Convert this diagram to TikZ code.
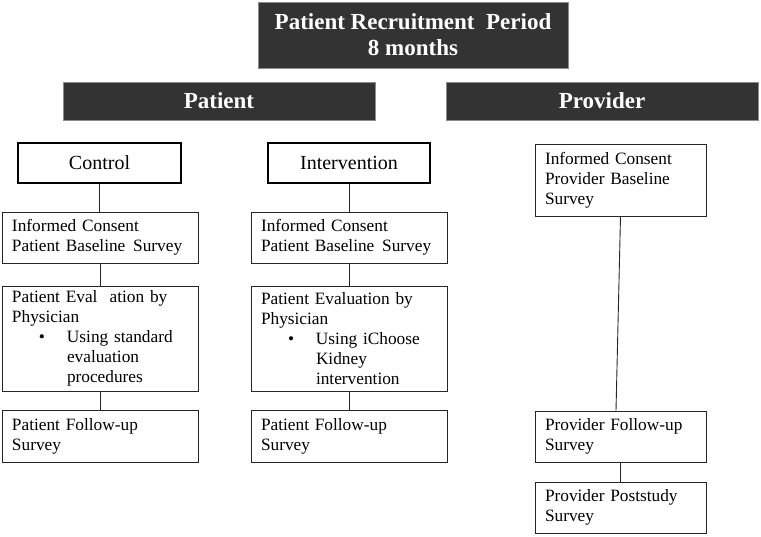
\documentclass[tikz,border=0pt]{standalone}
\usepackage{fontspec}
\setmainfont{Liberation Serif}
\begin{document}
\begin{tikzpicture}[x=1pt,y=-1pt,
  hdr/.style={draw=black!45, fill=black!80, text=white, font=\fontsize{23}{26}\selectfont\bfseries, align=center, line width=0.8pt, inner sep=0pt},
  grp/.style={draw=black, line width=2.6pt, font=\fontsize{20}{24}\selectfont, inner sep=0pt, minimum height=40pt},
  box/.style={draw=black!85, line width=0.9pt, font=\fontsize{17.3}{20}\selectfont, align=left, inner xsep=10pt, inner ysep=0pt},
  wbox/.style={box, text width=176pt},
  pbox/.style={box, text width=151pt},
  conn/.style={draw=black!85, line width=0.9pt}]
\useasboundingbox (0,0) rectangle (761,536);
% headers
\node[hdr, minimum width=310pt, minimum height=66pt] (top) at (413,35) {Patient Recruitment\hspace{0.5em}Period\\8 months};
\node[hdr, minimum width=312pt, minimum height=38pt] (pat) at (219,101) {Patient};
\node[hdr, minimum width=312pt, minimum height=38pt] (prov) at (602,101) {Provider};
% group boxes
\node[grp, minimum width=163pt] (ctl) at (99.5,163) {Control};
\node[grp, minimum width=162pt] (int) at (349,163) {Intervention};
% control column
\node[wbox, minimum height=51pt] (lic) at (100,237.5) {Informed Consent\\Patient Baseline\hspace{0.45em}Survey};
\node[wbox, minimum height=105pt] (lev) at (100,338.5) {Patient Eval\hspace{0.7em}ation by\\Physician\\\hspace*{27pt}\makebox[28pt][l]{\textbullet}\parbox[t]{120pt}{Using standard\\evaluation\\procedures}};
\node[wbox, minimum height=52pt] (lfu) at (100,436) {Patient Follow-up\\Survey};
% intervention column
\node[wbox, minimum height=51pt] (mic) at (349,237.5) {Informed Consent\\Patient Baseline\hspace{0.45em}Survey};
\node[wbox, minimum height=105pt] (mev) at (349,338.5) {Patient Evaluation by\\Physician\\\hspace*{27pt}\makebox[28pt][l]{\textbullet}\parbox[t]{120pt}{Using iChoose\\Kidney\\intervention}};
\node[wbox, minimum height=52pt] (mfu) at (349,436) {Patient Follow-up\\Survey};
% provider column
\node[pbox, minimum height=72pt] (pic) at (620.5,180) {Informed Consent\\Provider Baseline\\Survey};
\node[pbox, minimum height=51pt] (pfu) at (620.5,436.5) {Provider Follow-up\\Survey};
\node[pbox, minimum height=51pt] (pps) at (620.5,507.5) {Provider Poststudy\\Survey};
% connectors
\draw[conn] (ctl.south) -- (ctl.south |- lic.north);
\draw[conn] (lic.south) -- (lev.north);
\draw[conn] (lev.south) -- (lfu.north);
\draw[conn] (int.south) -- (int.south |- mic.north);
\draw[conn] (mic.south) -- (mev.north);
\draw[conn] (mev.south) -- (mfu.north);
\draw[conn] (pic.south) -- ([xshift=-4.5pt]pfu.north);
\draw[conn] (pfu.south) -- (pps.north);
\end{tikzpicture}
\end{document}
